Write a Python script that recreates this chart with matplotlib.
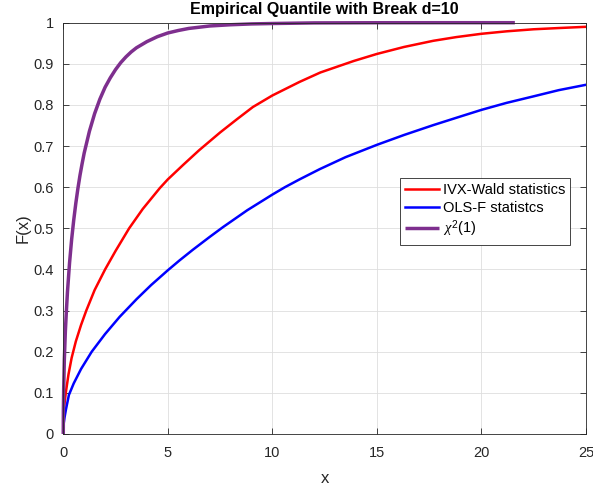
"""Empirical CDFs of the break-test statistics against the chi-square(1) law."""

import matplotlib

matplotlib.use("Agg")
import matplotlib.pyplot as plt
from matplotlib.ticker import FuncFormatter


# values
IVX_X = [0, 0.02, 0.05, 0.12, 0.25, 0.4, 0.6, 0.85, 1.1, 1.5, 2.0, 2.5, 3.15, 3.8, 4.62,
         5.0, 5.75, 6.5, 7.5, 8.3, 9.07, 10.0, 11.3, 12.3, 13.9, 15.0, 16.3, 17.7, 18.8,
         20.0, 21.2, 22.5, 23.7, 25.0]
IVX_F = [0, 0.04, 0.07, 0.10, 0.145, 0.185, 0.225, 0.265, 0.30, 0.35, 0.40, 0.445, 0.50,
         0.547, 0.598, 0.619, 0.655, 0.69, 0.733, 0.765, 0.795, 0.823, 0.856, 0.879, 0.907,
         0.924, 0.941, 0.956, 0.965, 0.973, 0.979, 0.984, 0.987, 0.990]

OLS_X = [0, 0.02, 0.06, 0.13, 0.27, 0.5, 0.85, 1.36, 2.0, 2.7, 3.51, 4.2, 5.0, 5.56, 6.2,
         7.0, 7.64, 8.8, 10.0, 10.6, 11.3, 12.27, 13.5, 15.0, 16.3, 17.7, 19.0, 20.0, 21.2,
         22.5, 23.7, 25.0]
OLS_F = [0, 0.025, 0.04, 0.06, 0.095, 0.123, 0.158, 0.20, 0.243, 0.285, 0.328, 0.362, 0.398,
         0.422, 0.448, 0.479, 0.503, 0.544, 0.582, 0.60, 0.619, 0.644, 0.673, 0.703, 0.727,
         0.751, 0.772, 0.788, 0.805, 0.821, 0.836, 0.849]

CHI_X = [0, 0.005, 0.02, 0.05, 0.1, 0.15, 0.2, 0.3, 0.4, 0.5, 0.6, 0.7, 0.8, 0.9, 1.0, 1.25,
         1.5, 1.75, 2.0, 2.25, 2.5, 2.75, 3.0, 3.25, 3.5, 4.0, 4.5, 5.0, 5.5, 6.0, 7.0, 8.0,
         9.0, 10.0, 12.0, 15.0, 18.0, 21.6]
CHI_F = [0, 0.056, 0.11, 0.18, 0.25, 0.30, 0.345, 0.416, 0.473, 0.52, 0.561, 0.597, 0.629,
         0.657, 0.683, 0.736, 0.779, 0.814, 0.843, 0.866, 0.886, 0.903, 0.917, 0.929, 0.939,
         0.954, 0.966, 0.975, 0.981, 0.986, 0.992, 0.995, 0.997, 0.998, 0.9995, 0.9999, 1.0,
         1.0]

SERIES_LABELS = ["IVX-Wald statistics", "OLS-F statistcs", r"$\chi^2$(1)"]
X_TICKS = [0, 5, 10, 15, 20, 25]
Y_TICKS = [0, 0.1, 0.2, 0.3, 0.4, 0.5, 0.6, 0.7, 0.8, 0.9, 1.0]

plt.rcParams["font.family"] = ["Liberation Sans", "DejaVu Sans"]
plt.rcParams["mathtext.fontset"] = "custom"
plt.rcParams["mathtext.it"] = "Liberation Serif:italic"
plt.rcParams["mathtext.rm"] = "Liberation Sans"

INK = "#262626"

figure = plt.figure(figsize=(5.93, 4.88), dpi=100)
axis = figure.add_axes([0.1067, 0.1107, 0.8814, 0.8428])

axis.plot(IVX_X, IVX_F, color="#ff0000", linewidth=1.8, label=SERIES_LABELS[0])
axis.plot(OLS_X, OLS_F, color="#0000ff", linewidth=1.8, label=SERIES_LABELS[1])
axis.plot(CHI_X, CHI_F, color="#7e2f8e", linewidth=2.5, label=SERIES_LABELS[2],
          clip_on=False, solid_capstyle="butt")

axis.set_xlim(0, 25)
axis.set_ylim(0, 1)
axis.set_xticks(X_TICKS)
axis.set_yticks(Y_TICKS)
axis.yaxis.set_major_formatter(FuncFormatter(lambda v, _: f"{v:g}"))
axis.tick_params(direction="in", length=4, width=0.6, colors=INK, labelsize=10.5,
                 top=True, right=True, pad=7)
axis.tick_params(axis="x", pad=9)
axis.grid(color="#dedede", linewidth=0.6)
axis.set_axisbelow(True)
for spine in axis.spines.values():
    spine.set_color(INK)
    spine.set_linewidth(0.6)

axis.set_title("Empirical Quantile with Break d=10", fontsize=11.5, fontweight="bold",
               color="black", pad=6)
axis.set_xlabel("x", fontsize=12, color=INK, labelpad=7.5)
axis.set_ylabel("F(x)", fontsize=12, color=INK, labelpad=1.7)

legend = axis.legend(loc="upper left", bbox_to_anchor=(0.644, 0.622), borderaxespad=0,
                     fontsize=10.5, handlelength=2.3, handletextpad=0.3,
                     labelspacing=0.25, borderpad=0.35, fancybox=False, framealpha=1,
                     edgecolor=INK)
legend.get_frame().set_linewidth(0.6)

figure.savefig("out.png", dpi=100)
